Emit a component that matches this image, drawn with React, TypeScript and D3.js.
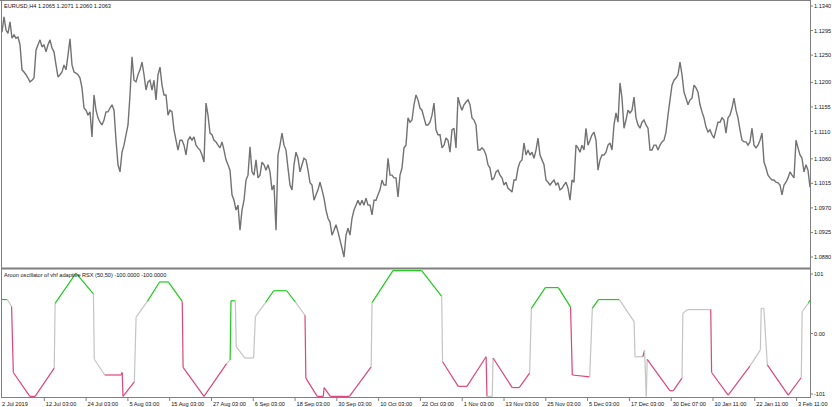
import * as d3 from 'd3';

// EURUSD H4 closes, sampled evenly left to right
const closes = [
  1.1292, 1.1320, 1.1296, 1.1290, 1.1311, 1.1281, 1.1287, 1.1281, 1.1283, 1.1269,
  1.1223, 1.1219, 1.1214, 1.1208, 1.1201, 1.1204, 1.1208, 1.1259, 1.1269, 1.1278,
  1.1265, 1.1269, 1.1256, 1.1269, 1.1278, 1.1263, 1.1256, 1.1232, 1.1210, 1.1214,
  1.1219, 1.1232, 1.1223, 1.1250, 1.1280, 1.1232, 1.1219, 1.1217, 1.1214, 1.1208,
  1.1190, 1.1153, 1.1149, 1.1140, 1.1146, 1.1100, 1.1177, 1.1149, 1.1135, 1.1127,
  1.1122, 1.1131, 1.1146, 1.1146, 1.1153, 1.1159, 1.1149, 1.1094, 1.1049, 1.1036,
  1.1072, 1.1085, 1.1104, 1.1122, 1.1177, 1.1247, 1.1204, 1.1201, 1.1214, 1.1223,
  1.1237, 1.1214, 1.1186, 1.1201, 1.1204, 1.1186, 1.1204, 1.1168, 1.1214, 1.1228,
  1.1195, 1.1177, 1.1177, 1.1140, 1.1149, 1.1146, 1.1113, 1.1094, 1.1076, 1.1094,
  1.1094, 1.1085, 1.1067, 1.1094, 1.1100, 1.1094, 1.1100, 1.1085, 1.1080, 1.1076,
  1.1067, 1.1054, 1.1162, 1.1140, 1.1107, 1.1104, 1.1094, 1.1091, 1.1085, 1.1080,
  1.1091, 1.1076, 1.1058, 1.1049, 1.1039, 1.0994, 1.0984, 1.0966, 1.0975, 1.0929,
  1.0966, 1.0984, 1.1021, 1.1030, 1.1082, 1.1036, 1.1030, 1.1058, 1.1025, 1.1030,
  1.1054, 1.1049, 1.1039, 1.1049, 1.1036, 1.1003, 1.1012, 1.0929, 1.1067, 1.1085,
  1.1107, 1.1085, 1.1076, 1.1043, 1.1012, 1.1003, 1.1049, 1.1072, 1.1061, 1.1036,
  1.1049, 1.1061, 1.1058, 1.1039, 1.1016, 1.1012, 1.0984, 1.0994, 1.1003, 1.1017,
  1.1003, 1.0988, 1.0966, 1.0951, 1.0944, 1.0920, 1.0929, 1.0939, 1.0926, 1.0911,
  1.0896, 1.0880, 1.0920, 1.0933, 1.0920, 1.0951, 1.0966, 1.0975, 1.0984, 1.0975,
  1.0984, 1.0975, 1.0988, 1.0975, 1.0975, 1.0957, 1.0984, 1.0984, 1.0994, 1.1003,
  1.1021, 1.1012, 1.1012, 1.1061, 1.1030, 1.1030, 1.1025, 1.1025, 1.0990, 1.1030,
  1.1043, 1.1080, 1.1085, 1.1135, 1.1127, 1.1131, 1.1159, 1.1177, 1.1168, 1.1153,
  1.1149, 1.1135, 1.1122, 1.1122, 1.1127, 1.1140, 1.1162, 1.1113, 1.1104, 1.1104,
  1.1080, 1.1085, 1.1098, 1.1094, 1.1072, 1.1113, 1.1116, 1.1080, 1.1173, 1.1159,
  1.1149, 1.1159, 1.1164, 1.1168, 1.1159, 1.1135, 1.1131, 1.1122, 1.1076, 1.1076,
  1.1080, 1.1076, 1.1067, 1.1049, 1.1043, 1.1021, 1.1025, 1.1036, 1.1039, 1.1030,
  1.1025, 1.1012, 1.1017, 1.1006, 1.1003, 1.0999, 1.1021, 1.1021, 1.1043, 1.1054,
  1.1058, 1.1089, 1.1067, 1.1076, 1.1067, 1.1072, 1.1061, 1.1076, 1.1098, 1.1067,
  1.1058, 1.1049, 1.1021, 1.1017, 1.1012, 1.1017, 1.1021, 1.1012, 1.1016, 1.1003,
  1.1006, 1.1012, 1.1017, 1.1006, 1.0984, 1.1021, 1.1017, 1.1085, 1.1080, 1.1072,
  1.1085, 1.1076, 1.1116, 1.1085, 1.1094, 1.1104, 1.1109, 1.1094, 1.1039, 1.1058,
  1.1067, 1.1067, 1.1072, 1.1085, 1.1089, 1.1076, 1.1122, 1.1144, 1.1127, 1.1199,
  1.1171, 1.1116, 1.1131, 1.1149, 1.1144, 1.1149, 1.1173, 1.1135, 1.1122, 1.1116,
  1.1127, 1.1131, 1.1122, 1.1116, 1.1076, 1.1076, 1.1085, 1.1085, 1.1076, 1.1085,
  1.1091, 1.1094, 1.1109, 1.1140, 1.1168, 1.1195, 1.1204, 1.1208, 1.1214, 1.1237,
  1.1214, 1.1182, 1.1171, 1.1159, 1.1168, 1.1171, 1.1195, 1.1190, 1.1182, 1.1159,
  1.1146, 1.1135, 1.1118, 1.1109, 1.1113, 1.1104, 1.1098, 1.1113, 1.1127, 1.1127,
  1.1135, 1.1131, 1.1107, 1.1135, 1.1140, 1.1153, 1.1171, 1.1149, 1.1135, 1.1113,
  1.1094, 1.1091, 1.1091, 1.1085, 1.1091, 1.1116, 1.1085, 1.1080, 1.1085, 1.1094,
  1.1107, 1.1054, 1.1043, 1.1030, 1.1025, 1.1021, 1.1021, 1.1017, 1.1016, 1.1012,
  1.0994, 1.1012, 1.1017, 1.1025, 1.1036, 1.1030, 1.1025, 1.1094, 1.1080, 1.1067,
  1.1061, 1.1036, 1.1049, 1.1039, 1.1008,
];

// Aroon oscillator turning points (bar index, value, colour state of the segment that follows)
const aroonBars = [
  0, 6, 11, 13, 32, 38, 60, 61, 85, 105,
  106, 118, 137, 138, 139, 152, 154, 167, 181, 191,
  207, 208, 232, 258, 262, 263, 268, 269, 279, 289,
  291, 303, 312, 327, 337, 348, 349, 362, 369, 370,
  377, 399, 424, 425, 449, 482, 505, 506, 524, 534,
  556, 557, 563, 564, 586, 594, 606, 608, 624, 639,
  653, 655, 675, 678, 685, 709, 726, 727, 736, 738,
  740, 741, 767, 771, 781, 782, 787, 814, 815, 834,
  859, 871, 872, 875, 879, 903, 918, 919, 926, 928,
];
const aroonValues = [
  54, 54, 43, -62, -100, -100, -55, 48, 96, 63,
  -41, -66, -66, -62, -100, -77, 26, 51, 82, 82,
  51, -54, -100, -48, -42, 52, 52, -21, -39, -39,
  27, 50, 68, 68, 50, 29, -71, -100, -100, -86,
  -100, -100, -53, 49, 100, 100, 59, -45, -84, -84,
  -37, -100, -100, -39, -86, -86, -63, 40, 73, 73,
  42, -66, -69, 40, 54, 54, 19, -37, -37, -27,
  -100, -41, -91, -91, -71, 32, 38, 38, -62, -98,
  -52, -26, 40, 40, -50, -98, -70, 35, 48, 53,
];
const aroonStates = [
  'up', 'flat', 'down', 'down', 'down', 'down', 'flat', 'up', 'up', 'flat',
  'flat', 'down', 'down', 'down', 'down', 'flat', 'flat', 'up', 'up', 'up',
  'down', 'down', 'down', 'flat', 'up', 'up', 'flat', 'flat', 'flat', 'flat',
  'flat', 'up', 'up', 'up', 'flat', 'down', 'down', 'down', 'down', 'down',
  'down', 'down', 'flat', 'up', 'up', 'up', 'flat', 'down', 'down', 'down',
  'down', 'flat', 'flat', 'down', 'down', 'down', 'flat', 'up', 'up', 'up',
  'down', 'down', 'flat', 'up', 'up', 'flat', 'flat', 'flat', 'down', 'flat',
  'flat', 'down', 'down', 'down', 'flat', 'flat', 'flat', 'down', 'down', 'down',
  'flat', 'flat', 'flat', 'flat', 'down', 'down', 'flat', 'flat', 'up',
];

const priceTicks = [1.1340, 1.1295, 1.1250, 1.1200, 1.1155, 1.1110, 1.1060, 1.1015, 1.0970, 1.0925, 1.0880];
const oscTicks = [101, 0, -101];
const oscTickLabels = ['101', '0.00', '-101'];

const dateBars = [0, 48, 96, 144, 192, 240, 288, 336, 384, 432, 480, 528, 576, 624, 672, 720, 768, 816, 864, 912];
const dateLabels = [
  '2 Jul 2019', '12 Jul 03:00', '24 Jul 03:00', '5 Aug 03:00', '15 Aug 03:00',
  '27 Aug 03:00', '6 Sep 03:00', '18 Sep 03:00', '30 Sep 03:00', '10 Oct 03:00',
  '22 Oct 03:00', '1 Nov 03:00', '13 Nov 03:00', '25 Nov 03:00', '5 Dec 03:00',
  '17 Dec 03:00', '30 Dec 07:00', '10 Jan 11:00', '22 Jan 11:00', '3 Feb 11:00',
];

const W = 835;
const H = 407;
const left = 2;
const right = 810;
const sepY = 268.5;
const oscTop = 270;
const oscBottom = 397;

const stateColor: Record<string, string> = {
  up: '#22c81e',
  down: '#dc4678',
  flat: '#c4c4c4',
};

const font = '"Liberation Sans", Arial, sans-serif';
const textColor = '#141414';
const frameColor = '#808080';

export default function App() {
  const barX = d3.scaleLinear().domain([0, 928]).range([left, right]);
  const sampleX = d3.scaleLinear().domain([0, closes.length - 1]).range([left, right]);
  const priceY = d3.scaleLinear().domain([1.0880, 1.1340]).range([257, 6]);
  const oscY = d3.scaleLinear().domain([-101, 101]).range([oscBottom, oscTop]);

  const priceLine = d3.line<number>()
    .x((_, i) => sampleX(i))
    .y(d => priceY(d))(closes) as string;

  const segments = aroonBars.slice(0, -1).map((b, i) => ({
    x1: barX(b),
    y1: oscY(aroonValues[i]),
    x2: barX(aroonBars[i + 1]),
    y2: oscY(aroonValues[i + 1]),
    color: stateColor[aroonStates[i]],
  }));

  return (
    <svg width={W} height={H} style={{ display: 'block', background: '#fff' }}>
      <style>{'body{margin:0}'}</style>

      {/* price line */}
      <path d={priceLine} fill="none" stroke="#727272" strokeWidth={1.4} strokeLinejoin="miter" strokeMiterlimit={2} />

      {/* oscillator */}
      {segments.map((s, i) => (
        <line key={i} x1={s.x1} y1={s.y1} x2={s.x2} y2={s.y2} stroke={s.color} strokeWidth={1.2} />
      ))}

      {/* frames */}
      <line x1={0} x2={right} y1={0.5} y2={0.5} stroke={frameColor} />
      <line x1={1.5} x2={1.5} y1={0} y2={oscBottom} stroke={frameColor} />
      <line x1={right + 0.5} x2={right + 0.5} y1={0} y2={oscBottom + 1} stroke={frameColor} />
      <line x1={1} x2={right} y1={sepY} y2={sepY} stroke={frameColor} strokeWidth={2} />
      <line x1={1} x2={right + 1} y1={oscBottom + 0.5} y2={oscBottom + 0.5} stroke={frameColor} />

      {/* titles */}
      <text x={4} y={8} fontFamily={font} fontSize={5.6} fill={textColor}>
        EURUSD,H4  1.2065 1.2071 1.2060 1.2063
      </text>
      <text x={4} y={276.5} fontFamily={font} fontSize={5.6} fill={textColor}>
        Aroon oscillator of vhf adaptive RSX (50,50) -100.0000 -100.0000
      </text>

      {/* price axis */}
      {priceTicks.map(t => (
        <g key={t} transform={`translate(${right},${priceY(t)})`}>
          <line x1={0} x2={3} stroke={frameColor} />
          <text x={4} y={2} fontFamily={font} fontSize={5.6} fill={textColor}>{t.toFixed(4)}</text>
        </g>
      ))}

      {/* oscillator axis */}
      {oscTicks.map((t, i) => {
        const y = i === 0 ? oscTop + 4 : i === oscTicks.length - 1 ? oscBottom - 3 : oscY(t);
        return (
          <g key={t} transform={`translate(${right},${y})`}>
            <line x1={0} x2={3} stroke={frameColor} />
            <text x={4} y={2} fontFamily={font} fontSize={5.6} fill={textColor}>{oscTickLabels[i]}</text>
          </g>
        );
      })}

      {/* time axis */}
      {dateBars.map((b, i) => (
        <g key={b} transform={`translate(${barX(b)},${oscBottom})`}>
          {i > 0 && <line x1={0.5} x2={0.5} y1={0} y2={4} stroke={frameColor} />}
          <text x={i > 0 ? 2 : 0} y={8.5} fontFamily={font} fontSize={5.6} fill={textColor}>{dateLabels[i]}</text>
        </g>
      ))}
    </svg>
  );
}
